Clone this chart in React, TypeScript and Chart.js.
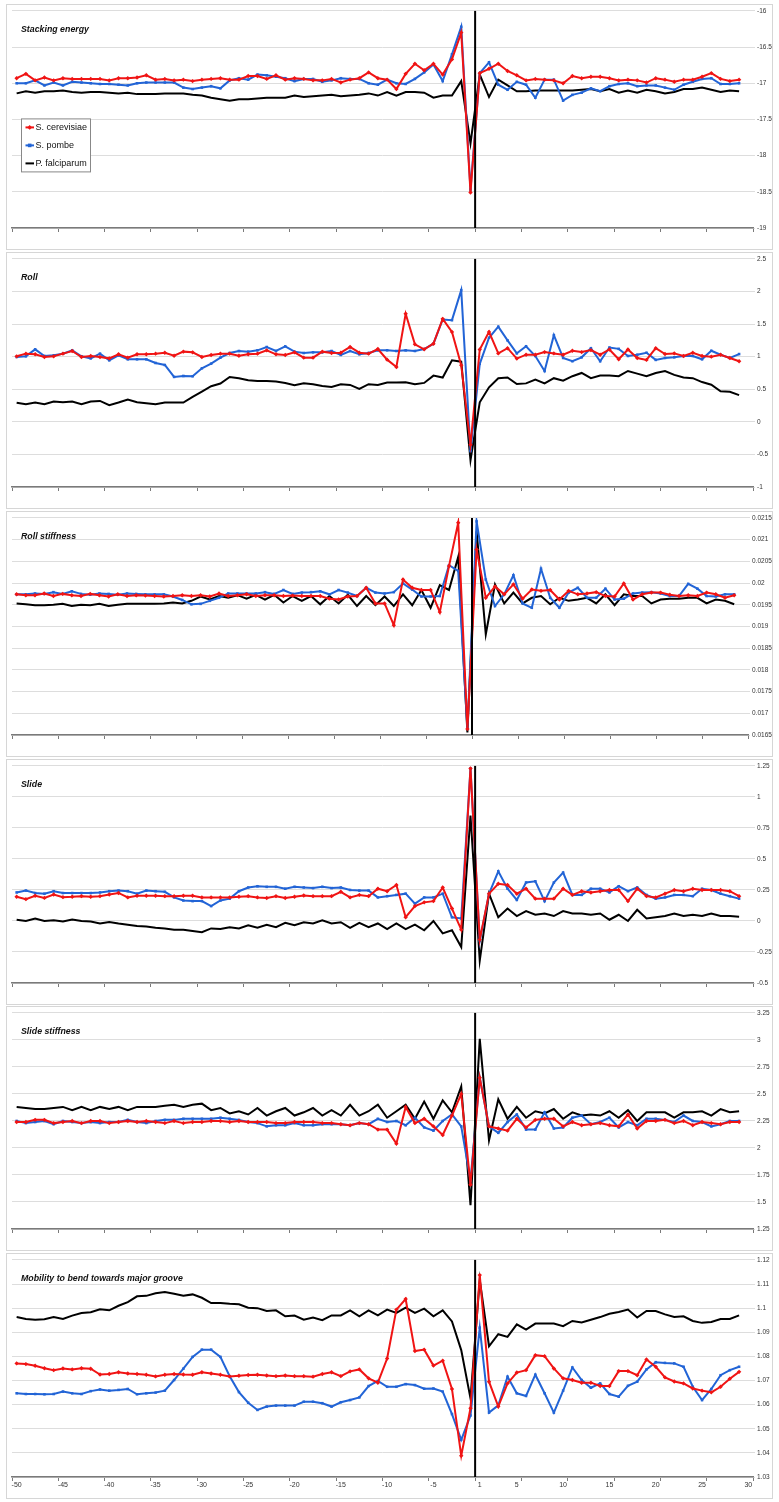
import { useEffect, useRef } from 'react';
import Chart from 'chart.js/auto';

// categories: positions -50..-1 and 1..30 (no 0)
const positions = [
  '-50', '-49', '-48', '-47', '-46', '-45', '-44', '-43', '-42', '-41',
  '-40', '-39', '-38', '-37', '-36', '-35', '-34', '-33', '-32', '-31',
  '-30', '-29', '-28', '-27', '-26', '-25', '-24', '-23', '-22', '-21',
  '-20', '-19', '-18', '-17', '-16', '-15', '-14', '-13', '-12', '-11',
  '-10', '-9', '-8', '-7', '-6', '-5', '-4', '-3', '-2', '-1',
  '1', '2', '3', '4', '5', '6', '7', '8', '9', '10',
  '11', '12', '13', '14', '15', '16', '17', '18', '19', '20',
  '21', '22', '23', '24', '25', '26', '27', '28', '29', '30',
];
const shownTicks = ['-50', '-45', '-40', '-35', '-30', '-25', '-20', '-15', '-10', '-5', '1', '5', '10', '15', '20', '25', '30'];

const seriesNames = ['S. cerevisiae', 'S. pombe', 'P. falciparum'];

// Stacking energy
const stackRed = [
  -16.93, -16.87, -16.96, -16.92, -16.96, -16.93, -16.94, -16.94, -16.94, -16.94,
  -16.96, -16.93, -16.93, -16.92, -16.89, -16.95, -16.94, -16.96, -16.95, -16.97,
  -16.95, -16.94, -16.93, -16.95, -16.95, -16.9, -16.9, -16.94, -16.89, -16.95,
  -16.93, -16.94, -16.96, -16.96, -16.94, -16.99, -16.95, -16.93, -16.85, -16.93,
  -16.95, -17.08, -16.87, -16.73, -16.82, -16.73, -16.88, -16.67, -16.3, -18.51,
  -16.86, -16.8, -16.73, -16.83, -16.89, -16.96, -16.94, -16.95, -16.96, -17.0,
  -16.9, -16.93, -16.91, -16.91, -16.93, -16.96, -16.95, -16.96, -16.99, -16.93,
  -16.95, -16.98, -16.95, -16.95, -16.91, -16.86, -16.94, -16.97, -16.95,
];
const stackBlue = [
  -17.0, -17.0, -16.96, -17.03, -16.99, -17.03, -16.98, -16.99, -17.0, -17.01,
  -17.01, -17.02, -17.03, -17.0, -16.99, -16.99, -16.99, -16.99, -17.06, -17.08,
  -17.06, -17.04, -17.07, -16.96, -16.93, -16.95, -16.88, -16.89, -16.91, -16.93,
  -16.97, -16.94, -16.94, -16.98, -16.96, -16.93, -16.94, -16.94, -17.0, -17.02,
  -16.95, -17.0, -17.01, -16.94, -16.85, -16.74, -16.97, -16.6, -16.22, -18.47,
  -16.86, -16.71, -17.02, -17.09, -16.98, -17.02, -17.2, -16.95, -16.95, -17.24,
  -17.16, -17.13, -17.07, -17.11, -17.04, -17.01, -17.0, -17.04, -17.03, -17.03,
  -17.06, -17.09, -17.02, -16.98, -16.94, -16.93, -17.01, -17.01, -17.0,
];
const stackBlack = [
  -17.14, -17.11, -17.13, -17.11, -17.11, -17.1, -17.12, -17.13, -17.12, -17.12,
  -17.13, -17.14, -17.13, -17.15, -17.15, -17.15, -17.14, -17.14, -17.14, -17.16,
  -17.17, -17.2, -17.22, -17.24, -17.22, -17.22, -17.21, -17.2, -17.2, -17.2,
  -17.17, -17.19, -17.18, -17.17, -17.16, -17.18, -17.17, -17.16, -17.14, -17.17,
  -17.12, -17.17, -17.12, -17.12, -17.13, -17.2, -17.17, -17.17, -16.97, -17.83,
  -16.88, -17.19, -16.95, -17.03, -17.11, -17.11, -17.1, -17.1, -17.1, -17.1,
  -17.1, -17.09, -17.08, -17.11, -17.08, -17.13, -17.1, -17.13, -17.09, -17.11,
  -17.14, -17.12, -17.08, -17.08, -17.06, -17.09, -17.12, -17.1, -17.11,
];

// Roll
const rollRed = [
  1.005, 1.046, 1.036, 0.995, 1.005, 1.046, 1.087, 0.995, 1.01, 0.995,
  0.974, 1.036, 0.985, 1.036, 1.036, 1.046, 1.061, 1.015, 1.077, 1.066,
  0.995, 1.026, 1.046, 1.046, 1.015, 1.036, 1.046, 1.097, 1.036, 1.026,
  1.066, 0.985, 0.985, 1.077, 1.056, 1.061, 1.148, 1.061, 1.046, 1.117,
  0.954, 0.842, 1.658, 1.189, 1.112, 1.199, 1.58, 1.38, 0.87, -0.35,
  1.11, 1.38, 1.05, 1.13, 0.97, 1.03, 1.03, 1.07, 1.05, 1.03,
  1.09, 1.07, 1.1, 1.03, 1.11, 0.96, 1.11, 0.98, 0.95, 1.13,
  1.04, 1.05, 1.01, 1.06, 1.01, 1.0, 1.03, 0.98, 0.93,
];
const rollBlue = [
  0.995, 1.005, 1.112, 1.01, 1.02, 1.046, 1.097, 1.005, 0.974, 1.046,
  0.944, 1.02, 0.959, 0.959, 0.959, 0.903, 0.872, 0.689, 0.704, 0.699,
  0.821, 0.893, 0.985, 1.056, 1.087, 1.077, 1.097, 1.148, 1.087, 1.158,
  1.077, 1.056, 1.066, 1.066, 1.087, 1.026, 1.087, 1.036, 1.056, 1.097,
  1.097, 1.087, 1.097, 1.087, 1.117, 1.199, 1.57, 1.56, 2.02, -0.45,
  0.89, 1.29, 1.46, 1.25, 1.05, 1.16, 1.01, 0.78, 1.33, 0.98,
  0.93, 0.99, 1.13, 0.93, 1.14, 1.12, 1.01, 1.03, 1.06, 0.95,
  0.98, 0.99, 1.01, 1.01, 0.96, 1.09, 1.03, 0.98, 1.04,
];
const rollBlack = [
  0.291, 0.27, 0.296, 0.27, 0.311, 0.301, 0.311, 0.27, 0.311, 0.321,
  0.255, 0.296, 0.342, 0.301, 0.286, 0.27, 0.296, 0.296, 0.296, 0.383,
  0.464, 0.546, 0.587, 0.689, 0.668, 0.638, 0.628, 0.628, 0.617, 0.597,
  0.561, 0.592, 0.577, 0.551, 0.536, 0.577, 0.566, 0.505, 0.577, 0.566,
  0.602, 0.602, 0.607, 0.577, 0.597, 0.709, 0.679, 0.944, 0.923, -0.59,
  0.3, 0.53, 0.67, 0.68, 0.58, 0.59, 0.65, 0.59, 0.67, 0.63,
  0.7, 0.75, 0.67, 0.71, 0.71, 0.7, 0.78, 0.74, 0.7, 0.75,
  0.78, 0.72, 0.68, 0.67, 0.61, 0.57, 0.47, 0.46, 0.41,
];

// Roll stiffness
const rollStiffRed = [
  0.01974, 0.01972, 0.01972, 0.01976, 0.0197, 0.01975, 0.01972, 0.0197, 0.01975, 0.01972,
  0.01969, 0.01974, 0.0197, 0.01972, 0.01971, 0.0197, 0.01969, 0.0197, 0.01972, 0.0197,
  0.01972, 0.01969, 0.01976, 0.0197, 0.01972, 0.01974, 0.0197, 0.01972, 0.01972, 0.0197,
  0.01971, 0.0197, 0.0197, 0.0197, 0.01964, 0.01962, 0.01969, 0.0197, 0.01989, 0.01953,
  0.01953, 0.01903, 0.02008, 0.01989, 0.01984, 0.01984, 0.01933, 0.02039, 0.02139, 0.01664,
  0.02077, 0.01966, 0.01992, 0.01974, 0.01997, 0.01964, 0.01985, 0.01982, 0.01984, 0.01962,
  0.01982, 0.01974, 0.01976, 0.01979, 0.0197, 0.01969, 0.01999, 0.01962, 0.01974, 0.01978,
  0.01978, 0.01973, 0.0197, 0.01972, 0.0197, 0.01978, 0.01974, 0.01966, 0.01972,
];
const rollStiffBlue = [
  0.01974, 0.01974, 0.01976, 0.01975, 0.01979, 0.01975, 0.01981, 0.01975, 0.01973, 0.01976,
  0.01975, 0.01973, 0.01976, 0.01975, 0.01974, 0.01974, 0.01974, 0.01969, 0.01961, 0.01951,
  0.01952, 0.01959, 0.01966, 0.01976, 0.01976, 0.01976, 0.01976, 0.01979, 0.01975, 0.01984,
  0.01975, 0.01978, 0.01979, 0.01981, 0.01974, 0.01984, 0.01978, 0.0197, 0.01989, 0.01978,
  0.01976, 0.01979, 0.01999, 0.01985, 0.01969, 0.01969, 0.0197, 0.02041, 0.02028, 0.01665,
  0.02142, 0.02008, 0.01947, 0.01974, 0.02018, 0.01953, 0.01943, 0.02033, 0.01966, 0.01943,
  0.01978, 0.01989, 0.01966, 0.01966, 0.01987, 0.01962, 0.01964, 0.01976, 0.01978, 0.01979,
  0.01976, 0.0197, 0.0197, 0.01998, 0.01987, 0.0197, 0.01969, 0.01974, 0.01974,
];
const rollStiffBlack = [
  0.01953, 0.01951, 0.01949, 0.01949, 0.0195, 0.01952, 0.01947, 0.0195, 0.01949, 0.01952,
  0.01947, 0.0195, 0.01952, 0.01952, 0.01952, 0.01952, 0.01953, 0.01955, 0.01953, 0.01959,
  0.01969, 0.01962, 0.0197, 0.01966, 0.01972, 0.01964, 0.01973, 0.01962, 0.01973, 0.01955,
  0.0197, 0.01959, 0.0197, 0.01951, 0.0197, 0.01953, 0.01973, 0.01947, 0.0197, 0.01949,
  0.01969, 0.01947, 0.01974, 0.01949, 0.01984, 0.01943, 0.01995, 0.01984, 0.0206, 0.01656,
  0.02119, 0.01882, 0.01997, 0.01953, 0.01978, 0.01953, 0.01966, 0.0197, 0.01951, 0.01966,
  0.01959, 0.01962, 0.01966, 0.01953, 0.01974, 0.01949, 0.01974, 0.0197, 0.0197, 0.01953,
  0.01962, 0.01964, 0.01964, 0.01966, 0.01966, 0.01953, 0.01962, 0.01959, 0.01951,
];

// Slide
const slideRed = [
  0.195, 0.176, 0.203, 0.186, 0.213, 0.192, 0.195, 0.2, 0.195, 0.2,
  0.213, 0.226, 0.19, 0.203, 0.203, 0.203, 0.2, 0.2, 0.203, 0.203,
  0.19, 0.19, 0.19, 0.19, 0.195, 0.2, 0.19, 0.185, 0.2, 0.185,
  0.195, 0.205, 0.2, 0.2, 0.2, 0.235, 0.19, 0.21, 0.2, 0.26,
  0.24, 0.29, 0.03, 0.12, 0.15, 0.16, 0.27, 0.1, -0.07, 1.23,
  -0.15, 0.22, 0.3, 0.29, 0.22, 0.26, 0.18, 0.18, 0.18, 0.26,
  0.21, 0.24, 0.23, 0.24, 0.25, 0.25, 0.16, 0.26, 0.2, 0.19,
  0.22, 0.25, 0.24, 0.26, 0.25, 0.25, 0.25, 0.24, 0.2,
];
const slideBlue = [
  0.23, 0.245, 0.225, 0.22, 0.24, 0.225, 0.225, 0.225, 0.225, 0.23,
  0.24, 0.245, 0.24, 0.22, 0.245, 0.24, 0.235, 0.19, 0.165, 0.16,
  0.16, 0.12, 0.165, 0.18, 0.24, 0.27, 0.28, 0.275, 0.275, 0.26,
  0.275, 0.27, 0.265, 0.275, 0.265, 0.27, 0.25, 0.245, 0.245, 0.19,
  0.2, 0.21, 0.22, 0.14, 0.19, 0.19, 0.22, 0.03, 0.02, 1.23,
  -0.16, 0.22, 0.4, 0.26, 0.17, 0.31, 0.32, 0.16, 0.31, 0.39,
  0.21, 0.21, 0.26, 0.26, 0.23, 0.28, 0.24, 0.27, 0.21, 0.18,
  0.19, 0.21, 0.21, 0.2, 0.26, 0.25, 0.22, 0.2, 0.18,
];
const slideBlack = [
  0.01, 0.0, 0.02, 0.0, 0.005, -0.005, 0.012, 0.0, -0.005, -0.02,
  -0.008, -0.02, -0.03, -0.04, -0.045, -0.055, -0.06, -0.07, -0.07, -0.08,
  -0.09, -0.06, -0.065, -0.05, -0.06, -0.035, -0.055, -0.03, -0.05, -0.015,
  -0.035, -0.01, -0.02, 0.005, -0.02, -0.01, -0.055, -0.015, -0.05, -0.02,
  -0.065, -0.02, -0.065, -0.03, -0.075, 0.0, -0.1, -0.075, -0.21, 0.85,
  -0.32, 0.22, 0.03, 0.1, 0.04, 0.08, 0.05, 0.06, 0.04, 0.08,
  0.06, 0.06, 0.05, 0.06, 0.01, 0.05, 0.0, 0.09, 0.02, 0.03,
  0.04, 0.06, 0.04, 0.05, 0.04, 0.06, 0.04, 0.04, 0.035,
];

// Slide stiffness
const slideStiffRed = [
  2.24, 2.24, 2.26, 2.26, 2.23, 2.24, 2.25, 2.23, 2.25, 2.25,
  2.23, 2.24, 2.25, 2.24, 2.25, 2.24, 2.23, 2.25, 2.23, 2.24,
  2.24, 2.25, 2.25, 2.24, 2.25, 2.24, 2.24, 2.24, 2.23, 2.23,
  2.24, 2.24, 2.24, 2.23, 2.23, 2.22, 2.21, 2.23, 2.22, 2.17,
  2.17, 2.04, 2.38, 2.23, 2.27, 2.2, 2.12, 2.3, 2.5, 1.66,
  2.65, 2.2, 2.18, 2.16, 2.27, 2.19, 2.26, 2.27, 2.27, 2.2,
  2.24, 2.21, 2.22, 2.23, 2.21, 2.2, 2.31, 2.18, 2.25, 2.25,
  2.26, 2.23, 2.25, 2.21, 2.24, 2.23, 2.22, 2.24, 2.24,
];
const slideStiffBlue = [
  2.25, 2.23, 2.24, 2.25, 2.22, 2.25, 2.24, 2.23, 2.24, 2.23,
  2.24, 2.24, 2.26, 2.24, 2.23, 2.25, 2.26, 2.26, 2.27, 2.27,
  2.27, 2.27, 2.28, 2.27, 2.26, 2.24, 2.23, 2.2, 2.21, 2.21,
  2.23, 2.21, 2.21, 2.22, 2.22, 2.22, 2.21, 2.23, 2.22, 2.27,
  2.24, 2.25, 2.21, 2.28, 2.19, 2.16, 2.25, 2.31, 2.2, 1.7,
  2.65, 2.2, 2.14, 2.24, 2.31, 2.17, 2.17, 2.33, 2.18, 2.19,
  2.28, 2.3, 2.22, 2.24, 2.28, 2.19, 2.24, 2.21, 2.27, 2.27,
  2.26, 2.24, 2.3, 2.25, 2.24, 2.2, 2.22, 2.25, 2.25,
];
const slideStiffBlack = [
  2.38, 2.37, 2.36, 2.36, 2.37, 2.38, 2.35, 2.38, 2.35, 2.38,
  2.36, 2.38, 2.35, 2.38, 2.38, 2.38, 2.39, 2.4, 2.38, 2.4,
  2.41, 2.35, 2.37, 2.32, 2.34, 2.31, 2.37, 2.3, 2.34, 2.37,
  2.3, 2.33, 2.37, 2.3, 2.35, 2.3, 2.4, 2.3, 2.34, 2.4,
  2.28, 2.34, 2.4, 2.27, 2.43, 2.27, 2.44, 2.33, 2.57, 1.47,
  3.01, 2.07, 2.45, 2.27, 2.38, 2.28, 2.34, 2.32, 2.36, 2.27,
  2.33, 2.3, 2.31, 2.3, 2.34, 2.28, 2.35, 2.25, 2.33, 2.33,
  2.33, 2.28, 2.33, 2.33, 2.34, 2.3, 2.36, 2.33, 2.34,
];

// Mobility to bend towards major groove
const mobilityRed = [
  1.0771, 1.0768, 1.0761, 1.0751, 1.0743, 1.075, 1.0746, 1.0751, 1.0749, 1.0725,
  1.0727, 1.0734, 1.0729, 1.0727, 1.0724, 1.0717, 1.0724, 1.0727, 1.0725, 1.0724,
  1.0734, 1.0729, 1.0724, 1.0717, 1.072, 1.0723, 1.0724, 1.0721, 1.0718, 1.0721,
  1.0718, 1.0718, 1.0716, 1.0727, 1.0734, 1.0718, 1.0738, 1.0746, 1.0709, 1.0691,
  1.0791, 1.0994, 1.1038, 1.0822, 1.0828, 1.0762, 1.0782, 1.0665, 1.0388, 1.0585,
  1.1137, 1.0695, 1.0592, 1.0688, 1.0733, 1.0743, 1.0805, 1.0801, 1.075, 1.0709,
  1.0702, 1.0691, 1.0691, 1.0677, 1.0677, 1.0739, 1.0739, 1.0722, 1.0787, 1.0757,
  1.0713, 1.0696, 1.0688, 1.0667, 1.0658, 1.0651, 1.0674, 1.0707, 1.0736,
];
const mobilityBlue = [
  1.0647, 1.0644, 1.0644, 1.0643, 1.0644, 1.0654, 1.0647, 1.0644, 1.0656, 1.0663,
  1.0658, 1.0661, 1.0665, 1.0643, 1.0647, 1.065, 1.0658, 1.0702, 1.0749, 1.0798,
  1.0828, 1.0828, 1.0798, 1.0718, 1.0652, 1.0608, 1.0578, 1.0592, 1.0596, 1.0596,
  1.0596, 1.0612, 1.0612, 1.0606, 1.0592, 1.061, 1.0619, 1.063, 1.0677, 1.0698,
  1.0674, 1.0674, 1.0685, 1.0681, 1.0666, 1.0667, 1.0654, 1.0561, 1.0454, 1.0555,
  1.0919, 1.0567, 1.0597, 1.0716, 1.0647, 1.0636, 1.0724, 1.0647, 1.0567, 1.0658,
  1.0754, 1.0702, 1.067, 1.0688, 1.0644, 1.0633, 1.0678, 1.0695, 1.0746, 1.0776,
  1.0773, 1.0771, 1.0757, 1.0674, 1.0619, 1.0665, 1.0722, 1.0743, 1.0757,
];
const mobilityBlack = [
  1.0963, 1.0955, 1.0952, 1.0954, 1.0963, 1.0955, 1.0969, 1.098, 1.0983, 1.0995,
  1.0991, 1.101, 1.1025, 1.1049, 1.1051, 1.1062, 1.1067, 1.106, 1.1051, 1.1057,
  1.1043, 1.1021, 1.1021, 1.1018, 1.1016, 1.1002, 1.1, 1.0988, 1.0991, 1.0966,
  1.0969, 1.0952, 1.0961, 1.095, 1.097, 1.097, 1.0991, 1.0966, 1.0991, 1.097,
  1.0994, 1.098, 1.1002, 1.098, 1.0998, 1.0966, 1.0991, 1.0945, 1.0826, 1.0626,
  1.1117, 1.0842, 1.0892, 1.0881, 1.0933, 1.0911, 1.0936, 1.0936, 1.0936, 1.0925,
  1.0947, 1.0941, 1.0952, 1.0963, 1.0977, 1.0984, 1.0994, 1.0961, 1.0988, 1.0988,
  1.0974, 1.0963, 1.0966, 1.0947, 1.0939, 1.0943, 1.0955, 1.0955, 1.097,
];

const RED = '#f01414';
const BLUE = '#2264d6';
const BLACK = '#000000';
const FONT = '"Liberation Sans", Arial, sans-serif';

interface PanelProps {
  title: string;
  red: number[];
  blue: number[];
  black: number[];
  min: number;
  max: number;
  step: number;
  top: number;
  height: number;
  axisWidth?: number;
  xLabels?: boolean;
  legend?: boolean;
}

const Panel = ({ title, red, blue, black, min, max, step, top, height, axisWidth = 19, xLabels, legend }: PanelProps) => {
  const canvasRef = useRef<HTMLCanvasElement | null>(null);

  useEffect(() => {
    if (!canvasRef.current) return;

    const overlay = {
      id: 'overlay',
      afterDatasetsDraw(chart: any) {
        const { ctx, chartArea, scales } = chart;
        const x = (scales.x.getPixelForValue(49) + scales.x.getPixelForValue(50)) / 2;
        ctx.save();
        ctx.strokeStyle = '#000';
        ctx.lineWidth = 2;
        ctx.beginPath();
        ctx.moveTo(x, chartArea.top);
        ctx.lineTo(x, chartArea.bottom);
        ctx.stroke();
        ctx.restore();
      },
      afterDraw(chart: any) {
        const { ctx, chartArea } = chart;
        ctx.save();
        ctx.fillStyle = '#111';
        ctx.font = `italic bold 8.8px ${FONT}`;
        ctx.textBaseline = 'middle';
        ctx.fillText(title, chartArea.left + 9, chartArea.top + 18.5);
        if (legend) {
          const bx = chartArea.left + 9.5;
          const by = chartArea.top + 108;
          ctx.fillStyle = '#fff';
          ctx.fillRect(bx, by, 69, 53);
          ctx.strokeStyle = '#888';
          ctx.lineWidth = 1;
          ctx.strokeRect(bx, by, 69, 53);
          const colors = [RED, BLUE, BLACK];
          const rows = [8.5, 26.5, 44.5];
          ctx.font = `9px ${FONT}`;
          seriesNames.forEach((name, i) => {
            const yy = by + rows[i];
            ctx.strokeStyle = colors[i];
            ctx.lineWidth = 2;
            ctx.beginPath();
            ctx.moveTo(bx + 4, yy);
            ctx.lineTo(bx + 12.5, yy);
            ctx.stroke();
            ctx.fillStyle = colors[i];
            if (i === 0) {
              ctx.beginPath();
              ctx.moveTo(bx + 8.2, yy - 2.4);
              ctx.lineTo(bx + 10.6, yy);
              ctx.lineTo(bx + 8.2, yy + 2.4);
              ctx.lineTo(bx + 5.8, yy);
              ctx.fill();
            } else if (i === 1) {
              ctx.fillRect(bx + 6.4, yy - 1.8, 3.6, 3.6);
            }
            ctx.fillStyle = '#111';
            ctx.fillText(name, bx + 14, yy + 0.5);
          });
        }
        ctx.restore();
      },
    };

    const chartInstance = new Chart(canvasRef.current, {
      type: 'line',
      data: {
        labels: positions,
        datasets: [
          {
            label: seriesNames[0],
            data: red,
            borderColor: RED,
            backgroundColor: RED,
            borderWidth: 2,
            pointStyle: 'rectRot',
            pointRadius: 2.2,
            pointBorderWidth: 0,
          },
          {
            label: seriesNames[1],
            data: blue,
            borderColor: BLUE,
            backgroundColor: BLUE,
            borderWidth: 2,
            pointStyle: 'rect',
            pointRadius: 1.8,
            pointBorderWidth: 0,
          },
          {
            label: seriesNames[2],
            data: black,
            borderColor: BLACK,
            backgroundColor: BLACK,
            borderWidth: 2,
            pointRadius: 0,
          },
        ],
      },
      options: {
        animation: false,
        responsive: false,
        layout: { padding: { left: 5, top: 5, right: 0, bottom: 0 } },
        plugins: { legend: { display: false }, tooltip: { enabled: false } },
        elements: { line: { tension: 0 } },
        scales: {
          x: {
            type: 'category',
            offset: true,
            afterFit(scale: any) {
              scale.height = 21;
            },
            border: { display: true, color: '#7a7a7a', width: 1.5 },
            grid: {
              offset: true,
              drawOnChartArea: false,
              drawTicks: true,
              tickLength: 4,
              lineWidth: 1,
              color: (ctx: any) =>
                ctx.index === undefined || ctx.index % 5 === 0 ? '#7a7a7a' : 'rgba(0,0,0,0)',
            },
            ticks: {
              display: !!xLabels,
              autoSkip: false,
              maxRotation: 0,
              minRotation: 0,
              padding: 0,
              color: '#333',
              font: { size: 7, family: FONT },
              callback: (_v: any, i: number) => (shownTicks.includes(positions[i]) ? positions[i] : ''),
            },
          },
          y: {
            position: 'right',
            min,
            max,
            afterFit(scale: any) {
              scale.width = axisWidth;
            },
            border: { display: false },
            grid: { color: '#dddddd', lineWidth: 1, tickLength: 2 },
            ticks: {
              stepSize: step,
              padding: 2,
              color: '#333',
              font: { size: 6.5, family: FONT },
              callback: (v: any) => String(Number(Number(v).toFixed(4))),
            },
          },
        },
      },
      plugins: [overlay],
    });

    return () => {
      chartInstance.destroy();
    };
  }, [title, red, blue, black, min, max, step, axisWidth, xLabels, legend]);

  return (
    <div
      style={{
        position: 'absolute',
        top,
        left: 6,
        width: 767,
        height,
        border: '1px solid #d6d6d6',
        boxSizing: 'border-box',
        background: '#fff',
      }}
    >
      <canvas ref={canvasRef} width={765} height={height - 2} style={{ display: 'block' }} />
    </div>
  );
};

export default function App() {
  return (
    <div style={{ position: 'absolute', top: 0, left: 0, width: 779, height: 1502, background: '#fff' }}>
      <Panel title="Stacking energy" red={stackRed} blue={stackBlue} black={stackBlack}
        min={-19} max={-16} step={0.5} top={4} height={246} legend />
      <Panel title="Roll" red={rollRed} blue={rollBlue} black={rollBlack}
        min={-1} max={2.5} step={0.5} top={252} height={257} />
      <Panel title="Roll stiffness" red={rollStiffRed} blue={rollStiffBlue} black={rollStiffBlack}
        min={0.0165} max={0.0215} step={0.0005} top={511} height={246} axisWidth={24} />
      <Panel title="Slide" red={slideRed} blue={slideBlue} black={slideBlack}
        min={-0.5} max={1.25} step={0.25} top={759} height={246} />
      <Panel title="Slide stiffness" red={slideStiffRed} blue={slideStiffBlue} black={slideStiffBlack}
        min={1.25} max={3.25} step={0.25} top={1006} height={245} />
      <Panel title="Mobility to bend towards major groove" red={mobilityRed} blue={mobilityBlue} black={mobilityBlack}
        min={1.03} max={1.12} step={0.01} top={1253} height={246} xLabels />
    </div>
  );
}
